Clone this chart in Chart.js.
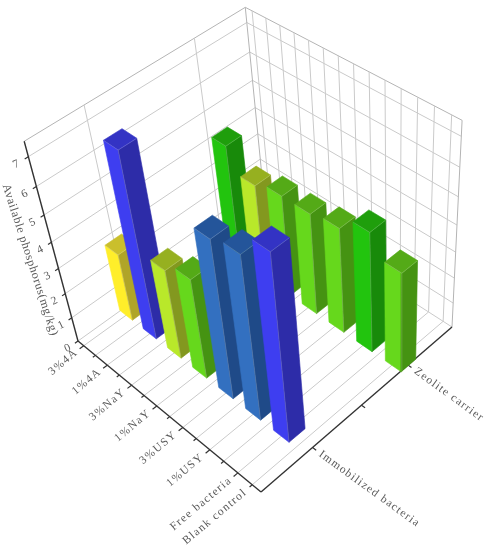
<!DOCTYPE html>
<html>
<head>
<meta charset="utf-8">
<style>
  html, body { margin: 0; padding: 0; background: #fff; }
  canvas { display: block; filter: blur(0.3px); }
</style>
<script src="https://cdn.jsdelivr.net/npm/chart.js@4/dist/chart.umd.min.js"></script>
</head>
<body>
<canvas id="chart" width="492" height="550"></canvas>
<script>
// chart values
var categories = ['3%4A', '1%4A', '3%NaY', '1%NaY', '3%USY', '1%USY', ['Free bacteria', 'Blank control']];
var seriesNames = ['Immobilized bacteria', 'Zeolite carrier'];
var immobilized = [2.7, 7.1, 3.55, 3.95, 6.1, 6.3, 7.1];
var zeolite = [4.55, 3.7, 3.95, 3.95, 4.1, 4.65, 3.9];
var valueTicks = [0, 1, 2, 3, 4, 5, 6, 7];
var valueTitle = 'Available phosphorus(mg/kg)';

// front, side, top shade per bar
var immobilizedShades = [
  ['#ffee2a', '#b0a528', '#cabf2c'],
  ['#3e3ef0', '#2d2ca8', '#3333c4'],
  ['#b9e82a', '#83981f', '#96b020'],
  ['#66d81c', '#459312', '#54aa17'],
  ['#3370c0', '#1f4a88', '#24559a'],
  ['#3370c0', '#1f4a88', '#24559a'],
  ['#3e3ef0', '#2d2ca8', '#3333c4']
];
var zeoliteShades = [
  ['#22c40e', '#188a0a', '#1f9e0c'],
  ['#b9e82a', '#83981f', '#96b020'],
  ['#66d81c', '#459312', '#54aa17'],
  ['#66d81c', '#459312', '#54aa17'],
  ['#66d81c', '#459312', '#54aa17'],
  ['#22c40e', '#188a0a', '#1f9e0c'],
  ['#66d81c', '#459312', '#54aa17']
];

// axis ranges in data units
var xMin = 0.75, xMax = 7.8;
var vMin = 0.5, vMax = 2.5;
var zMax = 7.5;
var barHalf = 0.27, rowHalf = 0.08;
var backRowShift = 0.55;

// floor corners on screen and the point the verticals run to
var A = [78, 341], B = [261, 492], C = [452, 327], D = [265, 207];
var vanish = [394, 1514];
var kz = -0.0194;

var dx1 = B[0] - C[0], dx2 = D[0] - C[0], sx = A[0] - B[0] + C[0] - D[0];
var dy1 = B[1] - C[1], dy2 = D[1] - C[1], sy = A[1] - B[1] + C[1] - D[1];
var den = dx1 * dy2 - dx2 * dy1;
var g = (sx * dy2 - dx2 * sy) / den;
var h = (dx1 * sy - sx * dy1) / den;
var a = B[0] - A[0] + g * B[0], b = D[0] - A[0] + h * D[0];
var d = B[1] - A[1] + g * B[1], e = D[1] - A[1] + h * D[1];

function project(x, v, z) {
  var s = (x - xMin) / (xMax - xMin);
  var t = (v - vMin) / (vMax - vMin);
  var zk = z * kz;
  var w = g * s + h * t + 1 + zk;
  return {
    x: (a * s + b * t + A[0] + zk * vanish[0]) / w,
    y: (d * s + e * t + A[1] + zk * vanish[1]) / w
  };
}

var datasets = [];

function addLine(points, color, width) {
  datasets.push({
    data: points.map(function (p) { return project(p[0], p[1], p[2]); }),
    showLine: true, fill: false, pointRadius: 0, tension: 0,
    borderColor: color, borderWidth: width
  });
}

function addFace(points, color) {
  var pts = points.concat([points[0]]);
  datasets.push({
    data: pts.map(function (p) { return project(p[0], p[1], p[2]); }),
    showLine: true, fill: 'shape', pointRadius: 0, tension: 0,
    backgroundColor: color, borderColor: color, borderWidth: 0.6
  });
}

function addBar(x, v, value, shades) {
  var x0 = x - barHalf, x1 = x + barHalf, v0 = v - rowHalf, v1 = v + rowHalf;
  addFace([[x0, v0, 0], [x1, v0, 0], [x1, v0, value], [x0, v0, value]], shades[0]);
  addFace([[x1, v0, 0], [x1, v1, 0], [x1, v1, value], [x1, v0, value]], shades[1]);
  addFace([[x0, v0, value], [x1, v0, value], [x1, v1, value], [x0, v1, value]], shades[2]);
  // pale edges where the faces meet
  addLine([[x1, v0, 0], [x1, v0, value]], 'rgba(255,255,255,0.22)', 0.8);
  addLine([[x0, v0, value], [x1, v0, value], [x1, v1, value]], 'rgba(255,255,255,0.22)', 0.8);
}

var gridColor = '#cacaca', axisColor = '#333333';

// walls
valueTicks.concat([zMax]).forEach(function (z) {
  addLine([[xMin, vMin, z], [xMin, vMax, z], [xMax, vMax, z]], z === zMax ? '#b4b4b4' : gridColor, 1);
});
addLine([[xMin, vMax, 0], [xMin, vMax, zMax]], '#b4b4b4', 1);
addLine([[xMax, vMax, 0], [xMax, vMax, zMax]], '#b4b4b4', 1);

// category grid, floor and back wall
for (var i = 0; i < 14; i++) {
  var gx = 1 + i / 2;
  addLine([[gx, vMin, 0], [gx, vMax, 0], [gx, vMax, zMax]], gridColor, 1);
}
// series grid, left wall only
[1, 2].forEach(function (gv) {
  addLine([[xMin, gv, 0], [xMin, gv, zMax]], gridColor, 1);
});

// axes
addLine([[xMin, vMin, 0], [xMin, vMin, zMax]], axisColor, 1.4);
addLine([[xMin, vMin, 0], [xMax, vMin, 0]], axisColor, 1.4);
addLine([[xMax, vMin, 0], [xMax, vMax, 0]], axisColor, 1.4);
valueTicks.forEach(function (z) {
  addLine([[xMin, vMin, z], [xMin, vMin - 0.03, z]], axisColor, 1.2);
});
for (var j = 0; j < 14; j++) {
  var tx = 1 + j / 2;
  addLine([[tx, vMin, 0], [tx, vMin - (j % 2 ? 0.025 : 0.04), 0]], axisColor, 1.2);
}
[1, 1.5, 2].forEach(function (tv) {
  addLine([[xMax, tv, 0], [xMax + 0.12, tv, 0]], axisColor, 1.2);
});

// back row first, then front row
zeolite.forEach(function (val, idx) { addBar(idx + 1 + backRowShift, 2, val, zeoliteShades[idx]); });
immobilized.forEach(function (val, idx) { addBar(idx + 1, 1, val, immobilizedShades[idx]); });

// chart.js paints the first dataset last
datasets.reverse();

function drawLabel(chart, text, p, angle, align, font, spacing) {
  var ctx = chart.ctx;
  ctx.save();
  ctx.translate(chart.scales.x.getPixelForValue(p.x), chart.scales.y.getPixelForValue(p.y));
  ctx.rotate(angle * Math.PI / 180);
  ctx.font = font;
  ctx.letterSpacing = spacing;
  ctx.fillStyle = '#5a5a5a';
  ctx.textAlign = align;
  ctx.textBaseline = 'middle';
  ctx.fillText(text, 0, 0);
  ctx.restore();
}

var axisLabels = {
  id: 'axisLabels',
  afterDraw: function (chart) {
    var font = '11.5px "Liberation Serif"';
    categories.forEach(function (cat, idx) {
      var p = project(idx + 1, vMin - 0.07, 0);
      var lines = Array.isArray(cat) ? cat : [cat];
      lines.forEach(function (line, n) {
        drawLabel(chart, line, { x: p.x + n * 15, y: p.y + n * 12 }, -40, 'right', font, '1.3px');
      });
    });
    seriesNames.forEach(function (name, idx) {
      drawLabel(chart, name, project(xMax + 0.25, idx + 1, 0), 36, 'left', font, '1.2px');
    });
    valueTicks.forEach(function (z) {
      var p = project(xMin, vMin - 0.1, z);
      drawLabel(chart, String(z), p, -25, 'center', font, '0px');
    });
    drawLabel(chart, valueTitle, { x: 30, y: 260 }, 72, 'center', '12px "Liberation Serif"', '0.6px');
  }
};

new Chart(document.getElementById('chart'), {
  type: 'scatter',
  data: { datasets: datasets },
  options: {
    responsive: false,
    animation: false,
    layout: { padding: 0 },
    plugins: { legend: { display: false }, tooltip: { enabled: false } },
    scales: {
      x: { type: 'linear', min: 0, max: 492, display: false },
      y: { type: 'linear', min: 0, max: 550, reverse: true, display: false }
    }
  },
  plugins: [axisLabels]
});
</script>
</body>
</html>
